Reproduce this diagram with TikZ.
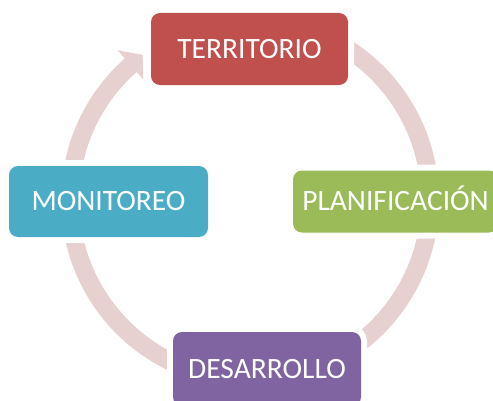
\documentclass[tikz,border=0pt]{standalone}
\usepackage{fontspec}
\setmainfont{Carlito}
\usetikzlibrary{calc}
\definecolor{ringc}{RGB}{231,208,208}
\definecolor{cRed}{RGB}{192,80,77}
\definecolor{cGreen}{RGB}{155,187,89}
\definecolor{cPurple}{RGB}{128,100,162}
\definecolor{cBlue}{RGB}{75,172,198}
\begin{document}
\begin{tikzpicture}[x=1pt,y=1pt,
  box/.style={rounded corners=9pt, inner sep=0pt, text=white,
    font=\fontsize{29.5}{35}\selectfont, text height=18.6pt, text depth=0pt,
    preaction={draw=white, line width=12pt}}]
\useasboundingbox (0,0) rectangle (493,400);
\clip (0,0) rectangle (493,400);
\coordinate (c) at (250,200);
% cycle arrow (ring with one head)
\fill[ringc] ($(c)+(100:189)$) arc[start angle=100, end angle=-228.5, radius=189]
  -- ($(c)+(-228.5:200)$) -- ($(c)+(-233.5:180.5)$) -- ($(c)+(-228.5:161)$)
  -- ($(c)+(-228.5:171)$) arc[start angle=-228.5, end angle=100, radius=171] -- cycle;
% nodes
\node[box, fill=cRed, minimum width=197pt, minimum height=72pt] (terr) at (249.5,351) {TERRITORIO};
\node[box, fill=cGreen, minimum width=205pt, minimum height=62pt] (plan) at (395.5,198.5) {PLANIFICACIÓN};
\node[box, fill=cPurple, minimum width=188pt, minimum height=74pt] (des) at (267,31) {DESARROLLO};
\node[box, fill=cBlue, minimum width=199pt, minimum height=71pt] (mon) at (108.5,198.5) {MONITOREO};
\end{tikzpicture}
\end{document}
